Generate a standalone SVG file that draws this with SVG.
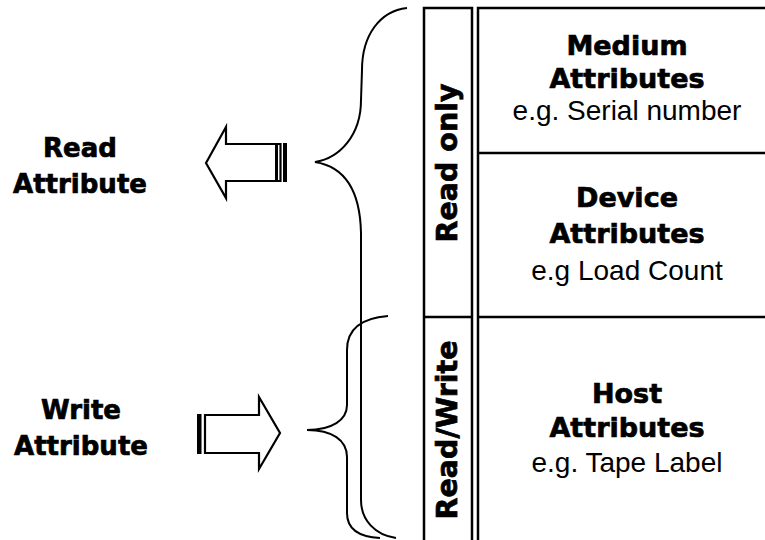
<svg xmlns="http://www.w3.org/2000/svg" width="765" height="540" viewBox="0 0 765 540">
<style>
.b{font-family:"DejaVu Sans","Liberation Sans",sans-serif;font-weight:bold;fill:#000;stroke:#000;stroke-width:0.7;text-anchor:middle}
.r{font-family:"Liberation Sans",Arial,sans-serif;font-size:28px;fill:#000;text-anchor:middle}
.t{font-size:27px}
.l{font-size:26px}
.v{font-size:28.5px}
.ln{stroke:#000;stroke-width:2.5;fill:none}
.br{stroke:#000;stroke-width:2;fill:none}
.ar{stroke:#000;stroke-width:2.2;fill:#fff;stroke-linejoin:miter}
</style>
<rect width="765" height="540" fill="#fff"/>
<g id="label-read">
<text class="b l" x="80" y="157">Read</text>
<text class="b l" x="80" y="193">Attribute</text>
</g>
<g id="label-write">
<text class="b l" x="81" y="419">Write</text>
<text class="b l" x="81" y="455">Attribute</text>
</g>
<g id="col-readonly">
<path class="ln" d="M424,540 L424,8 L472,8 L472,540 M424,317 L472,317"/>
<text class="b v" transform="translate(457,163) rotate(-90)">Read only</text>
</g>
<g id="col-readwrite">
<text class="b v" transform="translate(457,430) rotate(-90)">Read/Write</text>
</g>
<g id="cell-medium">
<path class="ln" d="M478,540 L478,8 L766,8 M478,153 L766,153"/>
<text class="b t" x="627" y="55">Medium</text>
<text class="b t" x="627" y="88">Attributes</text>
<text class="r" x="627" y="120">e.g. Serial number</text>
</g>
<g id="cell-device">
<path class="ln" d="M478,317 L766,317"/>
<text class="b t" x="627" y="207">Device</text>
<text class="b t" x="627" y="243">Attributes</text>
<text class="r" x="627" y="280">e.g Load Count</text>
</g>
<g id="cell-host">
<text class="b t" x="627" y="403">Host</text>
<text class="b t" x="627" y="437">Attributes</text>
<text class="r" x="627" y="472">e.g. Tape Label</text>
</g>
<g id="connectors">
<path id="brace-all" class="br" d="M407,8 C380,11 362,35 362,70 L361,100 C361,135 340,158 315,162 C340,166 360,185 361,233 L361,500 C361,520 375,535 396,538"/>
<path id="brace-rw" class="br" d="M388,316 C362,318 347,328 347,350 L347,405 C347,420 332,430 307,430 C332,430 347,440 347,457 L347,513 C347,530 360,537 380,538"/>
<g id="arrow-read">
<polygon class="ar" points="206,163 226,127 226,144 280.5,144 280.5,181 226,181 226,198"/>
<line x1="276.5" y1="144" x2="276.5" y2="181" stroke="#000" stroke-width="3"/>
<rect x="283" y="143" width="4" height="39" fill="#000"/>
</g>
<g id="arrow-write">
<rect x="197" y="414" width="4.5" height="40" fill="#000"/>
<polygon class="ar" points="205,415 259,415 259,397 280,433 259,469 259,453 205,453"/>
</g>
</g>
</svg>
